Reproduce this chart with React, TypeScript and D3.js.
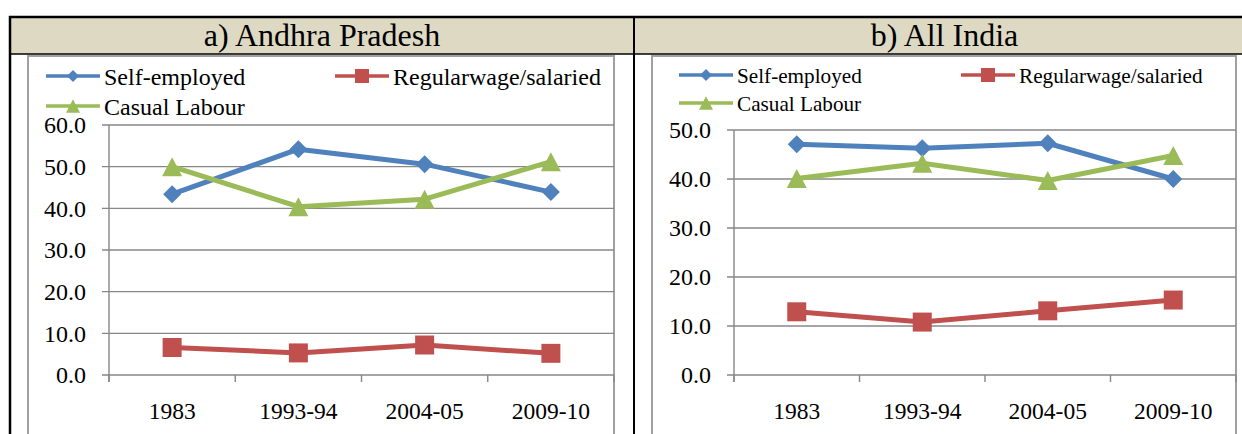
import React from 'react';
import * as d3 from 'd3';

const categories = ['1983', '1993-94', '2004-05', '2009-10'];
const seriesNames = ['Self-employed', 'Regularwage/salaried', 'Casual Labour'];
const apSelf = [43.4, 54.2, 50.6, 43.9];
const apRegular = [6.6, 5.3, 7.2, 5.2];
const apCasual = [50.0, 40.4, 42.2, 51.2];
const indSelf = [47.1, 46.3, 47.3, 40.0];
const indRegular = [12.9, 10.8, 13.1, 15.3];
const indCasual = [40.1, 43.2, 39.7, 44.8];
const apTicks = [0, 10, 20, 30, 40, 50, 60];
const indTicks = [0, 10, 20, 30, 40, 50];
const titles = ['a) Andhra Pradesh', 'b) All India'];

const COLORS = ['#4F81BD', '#C0504D', '#9BBB59'];
const MARKERS = ['diamond', 'square', 'triangle'];

function T(props: any) {
  const { size, children, ...rest } = props;
  return (
    <text {...rest} fontSize={size} fill="#000" style={{ fontFamily: "'Liberation Serif'" }}>
      {children}
    </text>
  );
}

function markerPath(kind: string, cx: number, cy: number, s: number) {
  if (kind === 'diamond') {
    const h = s / 2;
    return `M${cx},${cy - h}L${cx + h},${cy}L${cx},${cy + h}L${cx - h},${cy}Z`;
  }
  if (kind === 'square') {
    const h = s / 2;
    return `M${cx - h},${cy - h}H${cx + h}V${cy + h}H${cx - h}Z`;
  }
  const w = s / 2;
  const hh = s * 0.95;
  return `M${cx},${cy - hh / 2}L${cx + w},${cy + hh / 2}L${cx - w},${cy + hh / 2}Z`;
}

type PanelProps = {
  frameLeft: number;
  frameRight: number;
  plotLeft: number;
  plotRight: number;
  plotTop: number;
  yMax: number;
  ticks: number[];
  data: number[][];
  legendRows: number[];
  legendCols: number[];
  legendFont: number;
};

function Panel(p: PanelProps) {
  const plotBottom = 375;
  const x = d3.scaleBand<string>().domain(categories).range([p.plotLeft, p.plotRight]).padding(0);
  const y = d3.scaleLinear().domain([0, p.yMax]).range([plotBottom, p.plotTop]);
  const fmt = d3.format('.1f');
  const line = d3
    .line<number>()
    .x((_, i) => (x(categories[i]) as number) + x.bandwidth() / 2)
    .y((d) => y(d));
  const boundaries = [...categories.map((c) => x(c) as number), p.plotRight];
  const legendItems = [
    { idx: 0, lx: p.legendCols[0], ly: p.legendRows[0] },
    { idx: 1, lx: p.legendCols[1], ly: p.legendRows[0] },
    { idx: 2, lx: p.legendCols[0], ly: p.legendRows[1] },
  ];
  const legSizes = [12, 14, 14];
  const markSizes = [18, 19, 20];
  return (
    <g>
      <rect x={p.frameLeft} y={56} width={p.frameRight - p.frameLeft} height={420} fill="#fff" stroke="#A0A0A0" strokeWidth={2} />
      {p.ticks.map((t) => (
        <g key={t}>
          <line x1={p.plotLeft - 7} x2={p.plotRight} y1={y(t)} y2={y(t)} stroke="#878787" strokeWidth={1.4} />
          <T x={p.plotLeft - 23} y={y(t)} dy="0.35em" textAnchor="end" size={24}>
            {fmt(t)}
          </T>
        </g>
      ))}
      <line x1={p.plotLeft} x2={p.plotLeft} y1={p.plotTop} y2={plotBottom + 7} stroke="#878787" strokeWidth={1.4} />
      {boundaries.map((b, i) => (
        <line key={i} x1={b} x2={b} y1={plotBottom} y2={plotBottom + 7} stroke="#878787" strokeWidth={1.4} />
      ))}
      {categories.map((c) => (
        <T key={c} x={(x(c) as number) + x.bandwidth() / 2} y={419} textAnchor="middle" size={23.5}>
          {c}
        </T>
      ))}
      {p.data.map((vals, si) => (
        <g key={si}>
          <path d={line(vals) || ''} fill="none" stroke={COLORS[si]} strokeWidth={5} strokeLinejoin="round" />
          {vals.map((v, i) => (
            <path
              key={i}
              d={markerPath(MARKERS[si], (x(categories[i]) as number) + x.bandwidth() / 2, y(v), markSizes[si])}
              fill={COLORS[si]}
            />
          ))}
        </g>
      ))}
      {legendItems.map((it) => (
        <g key={it.idx}>
          <line x1={it.lx} x2={it.lx + 54} y1={it.ly} y2={it.ly} stroke={COLORS[it.idx]} strokeWidth={3.5} />
          <path d={markerPath(MARKERS[it.idx], it.lx + 27, it.ly, legSizes[it.idx])} fill={COLORS[it.idx]} />
          <T x={it.lx + 58} y={it.ly} dy="0.36em" size={p.legendFont}>
            {seriesNames[it.idx]}
          </T>
        </g>
      ))}
    </g>
  );
}

export default function App() {
  return (
    <svg width={1242} height={434} style={{ position: 'absolute', left: 0, top: 0, background: '#fff' }}>
      <rect x={0} y={0} width={1242} height={434} fill="#fff" />
      <rect x={10} y={17} width={1240} height={37} fill="#DDD9C3" />
      <Panel
        frameLeft={28}
        frameRight={614}
        plotLeft={109}
        plotRight={614}
        plotTop={125}
        yMax={60}
        ticks={apTicks}
        data={[apSelf, apRegular, apCasual]}
        legendRows={[76, 106]}
        legendCols={[46, 335]}
        legendFont={24}
      />
      <Panel
        frameLeft={652}
        frameRight={1236}
        plotLeft={734}
        plotRight={1236}
        plotTop={130}
        yMax={50}
        ticks={indTicks}
        data={[indSelf, indRegular, indCasual]}
        legendRows={[75, 103]}
        legendCols={[679, 961]}
        legendFont={21.2}
      />
      <T x={322} y={46} textAnchor="middle" size={32}>{titles[0]}</T>
      <T x={944.5} y={46} textAnchor="middle" size={32}>{titles[1]}</T>
      <line x1={9} x2={1242} y1={17} y2={17} stroke="#000" strokeWidth={2.5} />
      <line x1={9} x2={1242} y1={54} y2={54} stroke="#000" strokeWidth={1.6} />
      <line x1={10} x2={10} y1={16} y2={434} stroke="#000" strokeWidth={2.5} />
      <line x1={634} x2={634} y1={16} y2={434} stroke="#000" strokeWidth={2} />
    </svg>
  );
}
